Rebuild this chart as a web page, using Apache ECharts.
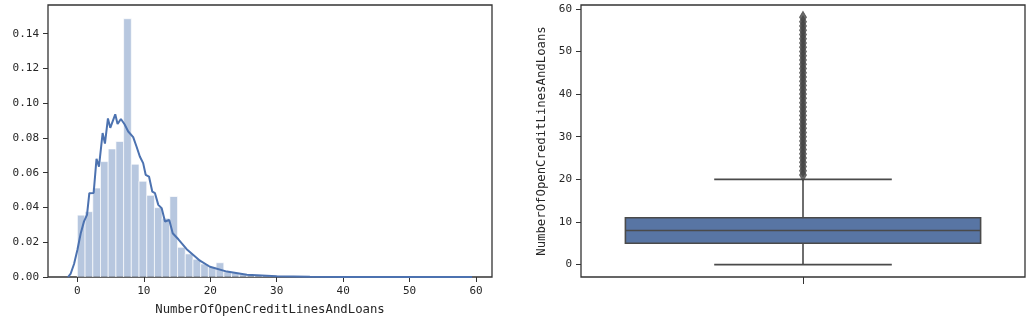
<!DOCTYPE html>
<html>
<head>
<meta charset="utf-8">
<script src="https://cdn.jsdelivr.net/npm/echarts@6/dist/echarts.min.js"></script>
<style>
html,body{margin:0;padding:0;background:#fff;}
#chart{width:1032px;height:322px;}
</style>
</head>
<body>
<div id="chart"></div>
<script>
// ---- Left panel: histogram (density) of NumberOfOpenCreditLinesAndLoans ----
const histBinStart = 0;
const histBinWidth = 1.16;
const histHeights = [
  0.0356, 0.0376, 0.0512, 0.0664, 0.0737, 0.0780, 0.1486, 0.0649, 0.0551, 0.0470,
  0.0399, 0.0338, 0.0463, 0.0171, 0.0133, 0.0102, 0.0075, 0.0059, 0.0082, 0.0030,
  0.0024, 0.0019, 0.0015, 0.0012, 0.0010, 0.0008, 0.0006, 0.0005, 0.0004, 0.0003,
  0.00025, 0.0002, 0.00016, 0.00013, 0.0001, 0.00008, 0.00007, 0.00006, 0.00005, 0.00004,
  0.00004, 0.00003, 0.00003, 0.00002, 0.00002, 0.00002, 0.00001, 0.00001, 0.00001, 0.00001
];
// KDE curve points
const kdeX = [-1.4, -1.0, -0.5, 0.0, 0.5, 1.0, 1.45, 1.8, 2.45, 2.88, 3.25, 3.8, 4.15, 4.6, 4.95,
  5.7, 6.05, 6.55, 7.1, 7.65, 8.4, 8.9, 9.4, 9.9, 10.28, 10.78, 11.28, 11.68, 12.18, 12.69,
  13.19, 13.83, 14.35, 15.2, 16.45, 17.45, 18.45, 19.95, 22.5, 25.5, 30.0, 35, 40, 45, 50, 55, 59.4];
const kdeY = [0, 0.002, 0.0075, 0.0155, 0.025, 0.032, 0.0357, 0.0482, 0.0484, 0.068, 0.0635, 0.0828, 0.0768, 0.0912, 0.0858,
  0.0936, 0.088, 0.0909, 0.0879, 0.0837, 0.0805, 0.0751, 0.0693, 0.0655, 0.0588, 0.0578, 0.0491, 0.0482, 0.0415, 0.0396,
  0.0319, 0.0328, 0.0252, 0.0217, 0.0160, 0.0127, 0.0094, 0.0059, 0.0031, 0.0013, 0.0004, 0.00015, 0.00007, 0.00004, 0.00002, 0.00001, 0];
const leftXTicks = [0, 10, 20, 30, 40, 50, 60];
const leftYTicks = [0, 0.02, 0.04, 0.06, 0.08, 0.10, 0.12, 0.14];
const axisTitle = 'NumberOfOpenCreditLinesAndLoans';

// ---- Right panel: boxplot ----
const boxCategories = [''];
const boxStats = [0, 5, 8, 11, 20]; // min whisker, Q1, median, Q3, max whisker
const outliers = [21, 22, 23, 24, 25, 26, 27, 28, 29, 30, 31, 32, 33, 34, 35, 36, 37, 38, 39, 40,
  41, 42, 43, 44, 45, 46, 47, 48, 49, 50, 51, 52, 53, 54, 55, 56, 57, 58];
const rightYTicks = [0, 10, 20, 30, 40, 50, 60];

// ---- build ----
const histData = histHeights.map((h, i) => [histBinStart + i * histBinWidth, histBinStart + (i + 1) * histBinWidth, h]);
const kdeData = kdeX.map((x, i) => [x, kdeY[i]]);
const outlierData = outliers.map(v => [0, v]);

const txt = '#262626';
const FONT = 'DejaVu Sans Mono';
const lineGray = '#4a4a4a';
const axLine = {show: false, onZero: false};

const chart = echarts.init(document.getElementById('chart'), null, {renderer: 'canvas'});
chart.setOption({
  animation: false,
  backgroundColor: '#fff',
  grid: [
    {left: 48, top: 5, width: 444, height: 272, show: true, borderColor: '#333', borderWidth: 1.3, backgroundColor: 'transparent'},
    {left: 581, top: 5, width: 444, height: 272, show: true, borderColor: '#333', borderWidth: 1.3, backgroundColor: 'transparent'}
  ],
  xAxis: [
    {
      gridIndex: 0, type: 'value', min: -4.42, max: 62.4,
      name: axisTitle, nameLocation: 'middle', nameGap: 27,
      nameTextStyle: {fontFamily: FONT, fontSize: 12.3, color: txt},
      axisLine: axLine,
      axisTick: {show: true, length: 5, lineStyle: {color: '#333'}, customValues: leftXTicks},
      axisLabel: {fontFamily: FONT, fontSize: 11, color: txt, margin: 9, customValues: leftXTicks, formatter: v => String(v)},
      splitLine: {show: false}
    },
    {
      gridIndex: 1, type: 'category', data: boxCategories, boundaryGap: true,
      axisLine: axLine,
      axisTick: {show: true, length: 7, alignWithLabel: true, lineStyle: {color: '#333'}},
      axisLabel: {show: false},
      splitLine: {show: false}
    }
  ],
  yAxis: [
    {
      gridIndex: 0, type: 'value', min: 0, max: 0.1565,
      axisLine: axLine,
      axisTick: {show: true, length: 5, lineStyle: {color: '#333'}, customValues: leftYTicks},
      axisLabel: {fontFamily: FONT, fontSize: 11, color: txt, margin: 9, customValues: leftYTicks, formatter: v => v.toFixed(2)},
      splitLine: {show: false}
    },
    {
      gridIndex: 1, type: 'value', min: -2.9, max: 60.9,
      name: axisTitle, nameLocation: 'middle', nameGap: 33, nameRotate: 90,
      nameTextStyle: {fontFamily: FONT, fontSize: 12.3, color: txt},
      axisLine: axLine,
      axisTick: {show: true, length: 5, lineStyle: {color: '#333'}, customValues: rightYTicks},
      axisLabel: {fontFamily: FONT, fontSize: 11, color: txt, margin: 9, customValues: rightYTicks, formatter: v => String(v)},
      splitLine: {show: false}
    }
  ],
  series: [
    {
      type: 'custom', xAxisIndex: 0, yAxisIndex: 0, data: histData, clip: true,
      encode: {x: [0, 1], y: 2},
      renderItem: function (params, api) {
        const p0 = api.coord([api.value(0), api.value(2)]);
        const p1 = api.coord([api.value(1), 0]);
        return {
          type: 'rect',
          shape: {x: p0[0], y: p0[1], width: p1[0] - p0[0], height: p1[1] - p0[1]},
          style: {fill: 'rgba(76,114,176,0.4)', stroke: 'rgba(255,255,255,0.75)', lineWidth: 0.9}
        };
      }
    },
    {
      type: 'line', xAxisIndex: 0, yAxisIndex: 0, data: kdeData, showSymbol: false, symbol: 'none',
      lineStyle: {color: '#4c72b0', width: 2}, z: 3
    },
    {
      type: 'custom', xAxisIndex: 1, yAxisIndex: 1, data: [[0].concat(boxStats)],
      encode: {x: 0, y: [1, 2, 3, 4, 5]},
      renderItem: function (params, api) {
        const cat = api.value(0);
        const band = api.size([1, 0])[0];
        const cx = api.coord([cat, 0])[0];
        const y = k => api.coord([cat, api.value(k)])[1];
        const yMin = y(1), yQ1 = y(2), yMed = y(3), yQ3 = y(4), yMax = y(5);
        const hb = band * 0.4, hc = band * 0.2;
        const ls = {stroke: lineGray, lineWidth: 1.6, fill: null};
        return {
          type: 'group',
          children: [
            {type: 'line', shape: {x1: cx, y1: yQ1, x2: cx, y2: yMin}, style: ls},
            {type: 'line', shape: {x1: cx, y1: yQ3, x2: cx, y2: yMax}, style: ls},
            {type: 'line', shape: {x1: cx - hc, y1: yMin, x2: cx + hc, y2: yMin}, style: ls},
            {type: 'line', shape: {x1: cx - hc, y1: yMax, x2: cx + hc, y2: yMax}, style: ls},
            {type: 'rect', shape: {x: cx - hb, y: yQ3, width: 2 * hb, height: yQ1 - yQ3},
             style: {fill: '#5875a4', stroke: lineGray, lineWidth: 1.6}},
            {type: 'line', shape: {x1: cx - hb, y1: yMed, x2: cx + hb, y2: yMed}, style: ls}
          ]
        };
      }
    },
    {
      type: 'scatter', xAxisIndex: 1, yAxisIndex: 1, data: outlierData,
      symbol: 'diamond', symbolSize: [7, 12],
      itemStyle: {color: '#474747', borderColor: '#474747', borderWidth: 0.8}, z: 4
    }
  ]
});
</script>
</body>
</html>
